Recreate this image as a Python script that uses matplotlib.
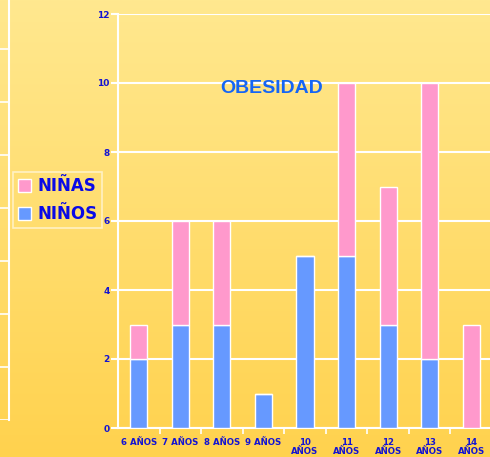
import numpy as np
import matplotlib.pyplot as plt
from matplotlib.colors import LinearSegmentedColormap

edades = ["6 AÑOS", "7 AÑOS", "8 AÑOS", "9 AÑOS", "10\nAÑOS", "11\nAÑOS",
          "12\nAÑOS", "13\nAÑOS", "14\nAÑOS"]
ninos = [2, 3, 3, 1, 5, 5, 3, 2, 0]
ninas = [1, 3, 3, 0, 0, 5, 4, 8, 3]
yticks = [0, 2, 4, 6, 8, 10, 12]

azul_txt = "#1414D2"
fig = plt.figure(figsize=(4.9, 4.57), dpi=100)

# fondo degradado
bg = fig.add_axes([0, 0, 1, 1], zorder=-2)
grad = np.linspace(0, 1, 256).reshape(-1, 1)
cmap = LinearSegmentedColormap.from_list("fondo", ["#FFE88F", "#FFD24E"])
bg.imshow(grad, aspect="auto", cmap=cmap, extent=[0, 1, 0, 1], origin="upper")
bg.axis("off")

# resto del grafico anterior (cortado a la izquierda)
ax0 = fig.add_axes([-0.3, 37 / 457, 0.3 + 9 / 490, 530 / 457], zorder=-1)
ax0.set_facecolor("none")
ax0.set_xlim(0, 1)
ax0.set_ylim(0, 10)
for y in range(0, 11):
    ax0.axhline(y, color="white", lw=1.2)
for s in ["top", "left", "bottom"]:
    ax0.spines[s].set_visible(False)
ax0.spines["right"].set_color("white")
ax0.spines["right"].set_linewidth(1.5)
ax0.set_xticks([])
ax0.set_yticks([])

# grafico principal
ax = fig.add_axes([118 / 490, 29 / 457, 374 / 490, 414 / 457])
ax.set_facecolor("none")
x = np.arange(len(edades))
w = 0.41
ax.bar(x, ninos, w, color="#6699FF", edgecolor="white", linewidth=1, label="NIÑOS", zorder=3)
ax.bar(x, ninas, w, bottom=ninos, color="#FF99CC", edgecolor="white", linewidth=1,
       label="NIÑAS", zorder=3)

ax.set_xlim(-0.5, len(edades) - 0.5)
ax.set_ylim(0, 12)
ax.set_yticks(yticks)
ax.set_yticklabels([str(v) for v in yticks], fontsize=6.5, fontweight="bold", color=azul_txt)
for y in yticks:
    ax.axhline(y, color="white", lw=1.5, zorder=1)
ax.tick_params(axis="y", colors="white", labelcolor=azul_txt, length=5, width=1.5, pad=1)

ax.set_xticks(x)
ax.set_xticklabels(edades, fontsize=6.2, fontweight="bold", color=azul_txt, linespacing=1.05,
                   va="top")
ax.set_xticks(np.arange(0.5, len(edades) - 1, 1), minor=True)
ax.tick_params(axis="x", which="major", length=0, pad=7)
ax.tick_params(axis="x", which="minor", colors="white", length=4, width=1.2)

for s in ["top", "right"]:
    ax.spines[s].set_visible(False)
ax.spines["left"].set_color("white")
ax.spines["left"].set_linewidth(1.5)
ax.spines["bottom"].set_color("white")
ax.spines["bottom"].set_linewidth(1.5)

ax.text(0.41, 0.821, "OBESIDAD", transform=ax.transAxes, ha="center", va="center",
        fontsize=14, fontweight="bold", color="#1565F5", family="Liberation Sans")

handles, labels = ax.get_legend_handles_labels()
leg = fig.legend(handles[::-1], labels[::-1], loc="upper left",
                 bbox_to_anchor=(13 / 490, 1 - 172 / 457), frameon=True,
                 prop={"size": 12, "weight": "bold"}, handlelength=0.8,
                 handleheight=0.8, handletextpad=0.35, borderpad=0.3, labelspacing=0.6,
                 fancybox=False, borderaxespad=0)
leg.get_frame().set_facecolor("none")
leg.get_frame().set_edgecolor("#FFF6D8")
leg.get_frame().set_linewidth(1.2)
for t in leg.get_texts():
    t.set_color("#0A0AE6")

fig.savefig("out.png", dpi=100)
